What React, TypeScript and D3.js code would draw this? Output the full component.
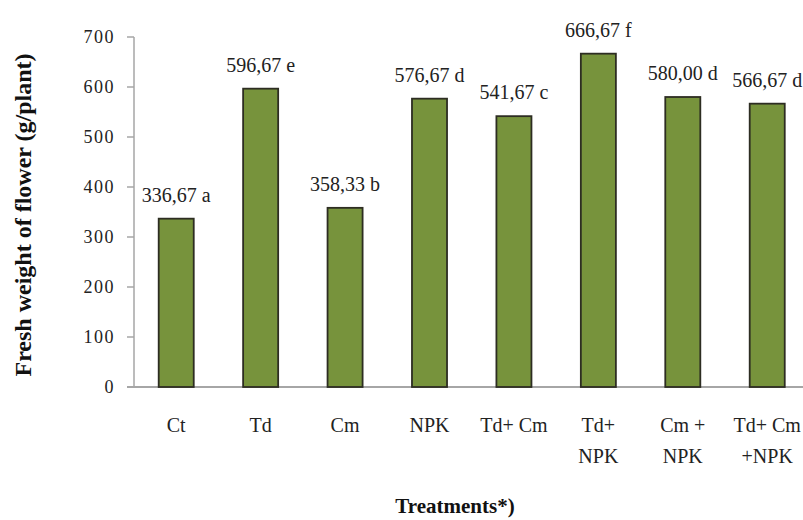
import React, { useEffect, useRef } from 'react';
import * as d3 from 'd3';

const treatments = ['Ct', 'Td', 'Cm', 'NPK', 'Td+ Cm', 'Td+\nNPK', 'Cm +\nNPK', 'Td+ Cm\n+NPK'];
const freshWeight = [336.67, 596.67, 358.33, 576.67, 541.67, 666.67, 580.0, 566.67];
const letters = ['a', 'e', 'b', 'd', 'c', 'f', 'd', 'd'];
const yTicks = [0, 100, 200, 300, 400, 500, 600, 700];

const FONT = '"Liberation Serif", "Times New Roman", serif';

const BarChart = () => {
  const chartRef = useRef<HTMLDivElement>(null);

  useEffect(() => {
    drawChart();
  }, []);

  const drawChart = () => {
    const width = 803;
    const height = 520;
    const left = 134;
    const step = 84.43;

    d3.select(chartRef.current).select('svg').remove();

    const svg = d3.select(chartRef.current)
      .append('svg')
      .attr('width', width)
      .attr('height', height)
      .style('position', 'absolute')
      .style('left', 0)
      .style('top', 0)
      .style('background', '#fff');

    const x = d3.scaleBand()
      .domain(treatments)
      .range([left, left + step * treatments.length])
      .paddingInner(0.585)
      .paddingOuter(0.2925);

    const y = d3.scaleLinear().domain([0, 700]).range([387, 37]);

    // axes
    svg.append('line')
      .attr('x1', left).attr('x2', left)
      .attr('y1', y(700)).attr('y2', y(0))
      .style('stroke', '#a6a6a6').style('stroke-width', 1.5);

    svg.append('line')
      .attr('x1', 127).attr('x2', width)
      .attr('y1', y(0)).attr('y2', y(0))
      .style('stroke', '#a6a6a6').style('stroke-width', 2);

    yTicks.forEach(t => {
      svg.append('line')
        .attr('x1', left - 7).attr('x2', left)
        .attr('y1', y(t)).attr('y2', y(t))
        .style('stroke', '#a6a6a6').style('stroke-width', 1.5);

      svg.append('text')
        .attr('x', 115)
        .attr('y', y(t))
        .attr('dy', '0.35em')
        .attr('text-anchor', 'end')
        .style('font-family', FONT)
        .style('font-size', '18px')
        .style('letter-spacing', '1.5px')
        .style('fill', '#222')
        .text(t);
    });

    // bars
    treatments.forEach((c, i) => {
      const v = freshWeight[i];
      const bx = x(c) as number;
      svg.append('rect')
        .attr('x', bx)
        .attr('y', y(v))
        .attr('width', x.bandwidth())
        .attr('height', y(0) - y(v))
        .style('fill', '#77933c')
        .style('stroke', '#2d2d22')
        .style('stroke-width', 1.8);

      svg.append('text')
        .attr('x', bx + x.bandwidth() / 2)
        .attr('y', y(v) - 17)
        .attr('text-anchor', 'middle')
        .style('font-family', FONT)
        .style('font-size', '20px')
        .style('fill', '#222')
        .text(`${v.toFixed(2).replace('.', ',')} ${letters[i]}`);

      const lines = c.split('\n');
      const label = svg.append('text')
        .attr('text-anchor', 'middle')
        .style('font-family', FONT)
        .style('font-size', '20px')
        .style('fill', '#222');
      lines.forEach((ln, j) => {
        label.append('tspan')
          .attr('x', bx + x.bandwidth() / 2)
          .attr('y', 432 + j * 31)
          .text(ln);
      });
    });

    svg.append('text')
      .attr('transform', `translate(31, 215) rotate(-90)`)
      .attr('text-anchor', 'middle')
      .style('font-family', FONT)
      .style('font-size', '24px')
      .style('font-weight', 'bold')
      .style('fill', '#111')
      .text('Fresh weight of flower (g/plant)');

    svg.append('text')
      .attr('x', 455)
      .attr('y', 513)
      .attr('text-anchor', 'middle')
      .style('font-family', FONT)
      .style('font-size', '21px')
      .style('font-weight', 'bold')
      .style('fill', '#111')
      .text('Treatments*)');
  };

  return <div ref={chartRef}></div>;
};

export default function App() {
  return <BarChart />;
}
